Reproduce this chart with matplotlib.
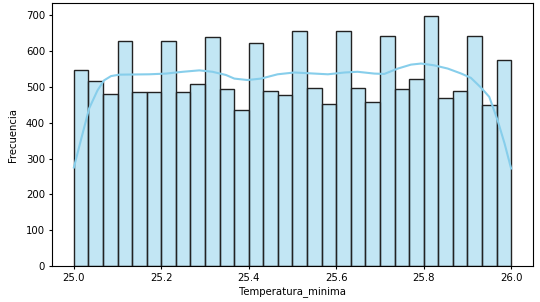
import numpy as np
import matplotlib
matplotlib.use("Agg")
import matplotlib.pyplot as plt

# Histograma de Temperatura_minima (30 bins entre 25.0 y 26.0)
bin_start = 25.0
bin_end = 26.0
counts = [546, 517, 481, 628, 485, 485, 627, 486, 508, 640,
          493, 434, 622, 489, 478, 657, 496, 453, 655, 498,
          458, 641, 493, 521, 698, 468, 487, 643, 449, 575]

# Curva KDE
kde_x = [25.000, 25.016, 25.035, 25.054, 25.069, 25.085, 25.104, 25.172,
         25.211, 25.249, 25.287, 25.317, 25.348, 25.367, 25.397, 25.428,
         25.466, 25.504, 25.550, 25.581, 25.619, 25.649, 25.687, 25.710,
         25.741, 25.771, 25.794, 25.824, 25.855, 25.886, 25.908, 25.931,
         25.950, 25.969, 25.985, 26.000]
kde_y = [275, 351, 440, 490, 518, 530, 534, 535,
         537, 542, 546, 542, 533, 523, 519, 523,
         535, 540, 537, 535, 540, 542, 537, 536,
         551, 562, 565, 560, 551, 537, 525, 498,
         472, 407, 342, 272]

plt.rcParams["font.size"] = 7.3

fig = plt.figure(figsize=(5.4, 3.02), dpi=100)
ax = fig.add_axes([0.0963, 0.119, 0.8907, 0.870])

edges = np.linspace(bin_start, bin_end, len(counts) + 1)
width = edges[1] - edges[0]
ax.bar(edges[:-1], counts, width=width, align="edge",
       color=(135/255, 206/255, 235/255, 0.5), edgecolor="#222222", linewidth=1.0)
ax.plot(kde_x, kde_y, color="skyblue", linewidth=1.5)

ax.set_xlim(24.95, 26.05)
ax.set_ylim(0, 733)
ax.set_xticks([25.0, 25.2, 25.4, 25.6, 25.8, 26.0])
ax.set_yticks(range(0, 701, 100))
ax.tick_params(length=2.5, pad=2.5)
ax.set_xlabel("Temperatura_minima", labelpad=2.5)
ax.set_ylabel("Frecuencia", labelpad=5.5)

plt.savefig("out.png", dpi=100)
plt.close()
